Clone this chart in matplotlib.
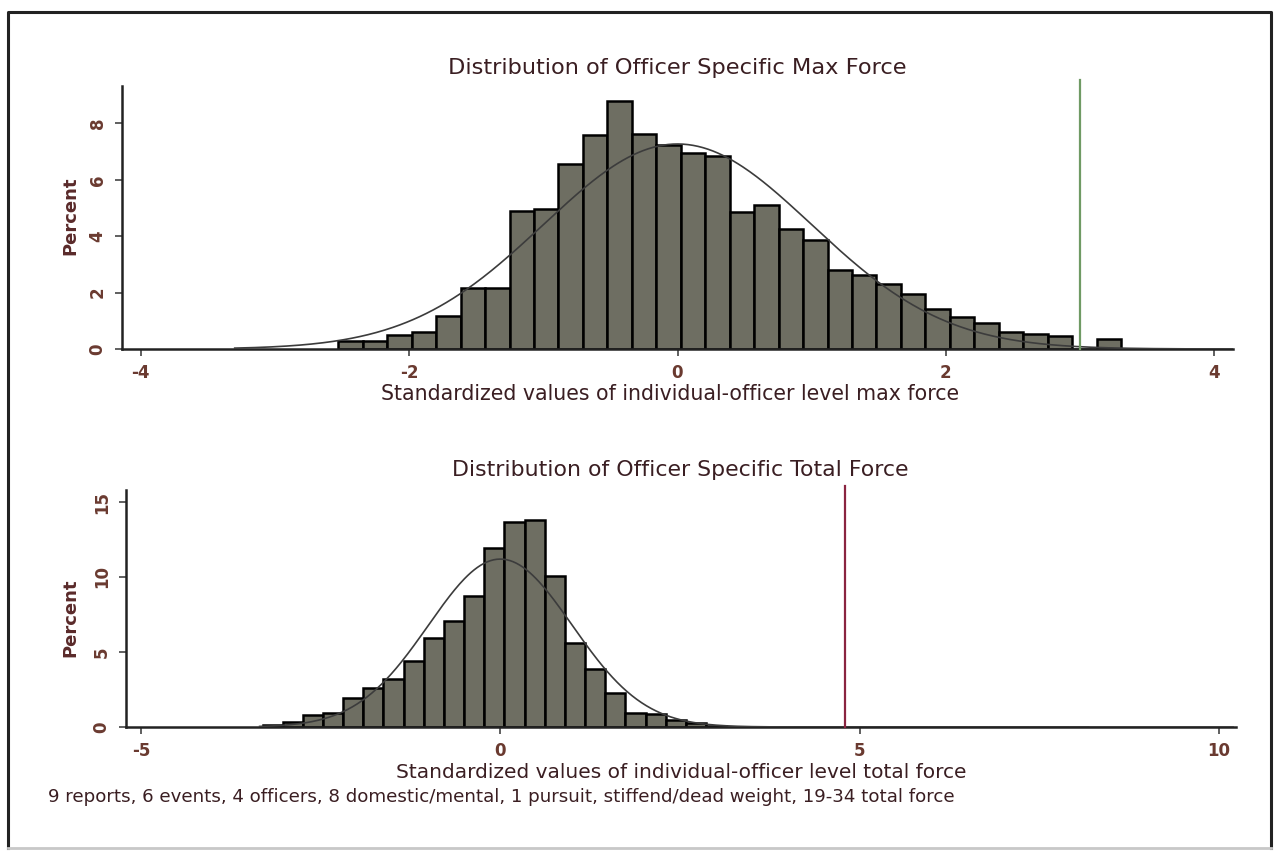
import numpy as np
import matplotlib
matplotlib.use("Agg")
import matplotlib.pyplot as plt
from matplotlib.lines import Line2D

# ---------------- data ----------------
# Top panel: officer-specific max force (percent per bin)
max_bin_start = -2.528
max_bin_width = 0.1823
max_heights = [0.27, 0.27, 0.50, 0.62, 1.17, 2.17, 2.17, 4.89, 4.95, 6.58,
               7.58, 8.81, 7.64, 7.25, 6.97, 6.85, 4.85, 5.12, 4.27, 3.86,
               2.82, 2.64, 2.29, 1.94, 1.41, 1.12, 0.91, 0.62, 0.54, 0.47,
               0.00, 0.35]
max_ref_line = 3.0
max_xticks = [-4, -2, 0, 2, 4]
max_yticks = [0, 2, 4, 6, 8]

# Bottom panel: officer-specific total force
tot_bin_start = -3.31
tot_bin_width = 0.2806
tot_heights = [0.11, 0.33, 0.78, 0.93, 1.96, 2.60, 3.22, 4.40, 5.93, 7.07,
               8.74, 11.96, 13.67, 13.82, 10.05, 5.60, 3.85, 2.24, 0.95, 0.89,
               0.44, 0.25, 0.10, 0.03, 0.03, 0.03, 0.03, 0.03, 0.03, 0.03,
               0.03, 0.03, 0.03, 0.03, 0.03, 0.03, 0.03, 0.03, 0.03, 0.03,
               0.03]
tot_ref_line = 4.8
tot_xticks = [-5, 0, 5, 10]
tot_yticks = [0, 5, 10, 15]

# normal overlay parameters (standardized values)
norm_mean = 0.0
norm_sd = 1.0

title_top = "Distribution of Officer Specific Max Force"
xlabel_top = "Standardized values of individual-officer level max force"
title_bot = "Distribution of Officer Specific Total Force"
xlabel_bot = "Standardized values of individual-officer level total force"
ylabel = "Percent"
note = ("9 reports, 6 events, 4 officers, 8 domestic/mental, 1 pursuit, "
        "stiffend/dead weight, 19-34 total force")

# ---------------- style ----------------
W, H = 1278, 851
BAR_FC = "#6e6e62"
TEXT_C = "#3a1e22"
TICK_C = "#6a3a30"
plt.rcParams["font.family"] = ["DejaVu Sans"]

fig = plt.figure(figsize=(W / 100, H / 100), dpi=100)
fig.patch.set_facecolor("white")


def px_axes(left, top, right, bottom):
    return fig.add_axes([left / W, 1 - bottom / H, (right - left) / W, (bottom - top) / H])


def normal_pct(x, width):
    return 100 * width * np.exp(-0.5 * ((x - norm_mean) / norm_sd) ** 2) / (norm_sd * np.sqrt(2 * np.pi))


def style_axes(ax, xlim, ylim, xticks, yticks):
    ax.set_xlim(*xlim)
    ax.set_ylim(*ylim)
    ax.set_xticks(xticks)
    ax.set_yticks(yticks)
    ax.set_xticklabels([str(t) for t in xticks], fontweight="bold")
    ax.set_yticklabels([str(t) for t in yticks], rotation=90, va="center", fontweight="bold")
    for s in ["top", "right"]:
        ax.spines[s].set_visible(False)
    for s in ["left", "bottom"]:
        ax.spines[s].set_linewidth(1.8)
        ax.spines[s].set_color("#222222")
    ax.tick_params(axis="both", direction="out", length=5, width=1.2, color="#444444",
                   labelsize=12, labelcolor=TICK_C, pad=6)
    ax.set_facecolor("white")


def draw_panel(ax, start, width, heights, ref_x, ref_color, ref_top, curve_range):
    edges = start + width * np.arange(len(heights))
    h = np.asarray(heights)
    ax.bar(edges, h, width=width, align="edge", color=BAR_FC, edgecolor="black",
           linewidth=1.8, zorder=2)
    xs = np.linspace(curve_range[0], curve_range[1], 600)
    ax.plot(xs, normal_pct(xs, width), color="#3c3c3c", linewidth=1.2, zorder=3)
    ax.plot([ref_x, ref_x], [0, ref_top], color=ref_color, linewidth=1.6, zorder=4, clip_on=False)


# ---------------- top panel ----------------
ax1 = px_axes(122, 86, 1233, 349)
style_axes(ax1, (-4.14, 4.14), (0, 9.33), max_xticks, max_yticks)
draw_panel(ax1, max_bin_start, max_bin_width, max_heights, max_ref_line, "#6f9a64", 9.55,
           (-3.3, 4.14))

# ---------------- bottom panel ----------------
ax2 = px_axes(126, 490, 1236, 727)
style_axes(ax2, (-5.21, 10.24), (0, 15.8), tot_xticks, tot_yticks)
draw_panel(ax2, tot_bin_start, tot_bin_width, tot_heights, tot_ref_line, "#8a2440", 16.1,
           (-3.35, 10.2))

# ---------------- texts ----------------
texts = []
t1 = fig.text(677 / W, 1 - 68 / H, title_top, ha="center", va="center", color=TEXT_C, fontsize=14)
texts.append((t1, 475))
t2 = fig.text(670 / W, 1 - 394 / H, xlabel_top, ha="center", va="center", color=TEXT_C, fontsize=13)
texts.append((t2, 596))
t3 = fig.text(680 / W, 1 - 470 / H, title_bot, ha="center", va="center", color=TEXT_C, fontsize=14)
texts.append((t3, 471))
t4 = fig.text(681 / W, 1 - 773 / H, xlabel_bot, ha="center", va="center", color=TEXT_C, fontsize=13)
texts.append((t4, 587))
t5 = fig.text(48 / W, 1 - 797 / H, note, ha="left", va="center", color=TEXT_C, fontsize=9)
texts.append((t5, 940))

fig.text(70 / W, 1 - 216 / H, ylabel, ha="center", va="center", rotation=90,
         color="#5a2a2a", fontsize=13, fontweight="bold")
fig.text(70 / W, 1 - 618 / H, ylabel, ha="center", va="center", rotation=90,
         color="#5a2a2a", fontsize=13, fontweight="bold")

fig.canvas.draw()
r = fig.canvas.get_renderer()
for t, target in texts:
    bb = t.get_window_extent(r)
    t.set_fontsize(t.get_fontsize() * target / bb.width * 0.97)

# outer frame: dark left/top/right, light bottom
L, R, T, B = 8 / W, 1271 / W, 1 - 12 / H, 1 - 848 / H
fig.lines.append(Line2D([L, L, R, R], [B, T, T, B], transform=fig.transFigure,
                        color="#222222", linewidth=2.2))
fig.lines.append(Line2D([L, R], [B, B], transform=fig.transFigure,
                        color="#c8c8c8", linewidth=2.0))

fig.savefig("out.png", dpi=100, facecolor="white")
